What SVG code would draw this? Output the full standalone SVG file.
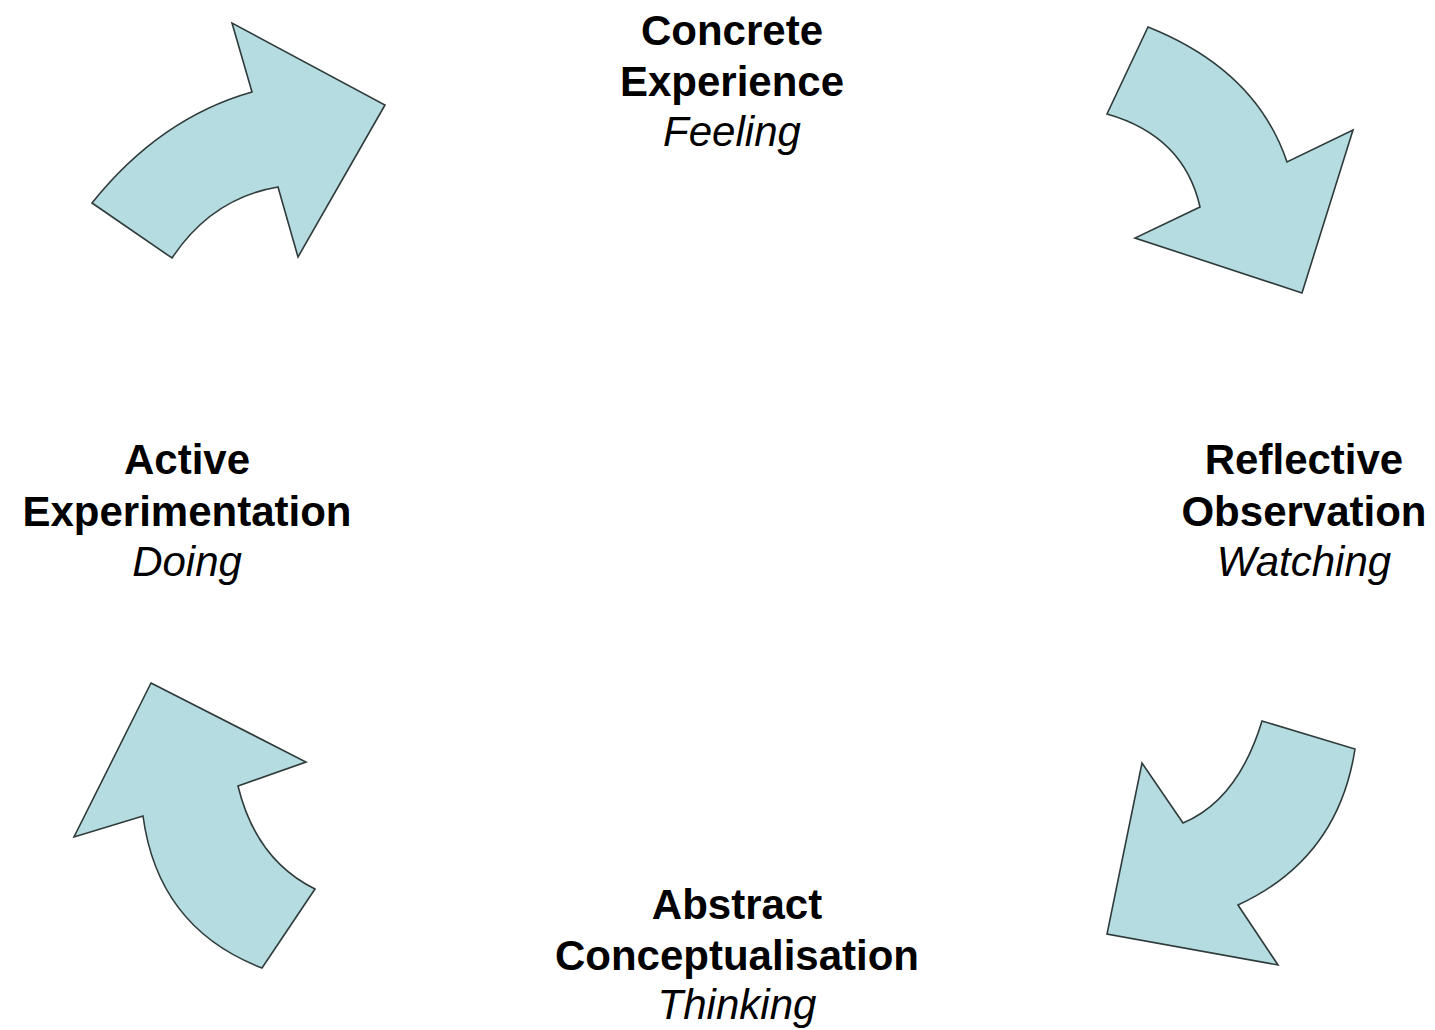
<svg xmlns="http://www.w3.org/2000/svg" width="1435" height="1030" viewBox="0 0 1435 1030">
<style>
.arrow{fill:#b5dce0;stroke:#2f3b3b;stroke-width:1.6;stroke-linejoin:miter}
.t{font-family:"Liberation Sans",Arial,sans-serif;font-size:42px;fill:#000;text-anchor:middle}
.b{font-weight:bold}
.i{font-style:italic}
</style>
<rect width="1435" height="1030" fill="#fff"/>
<g id="connectors">
<path id="arrow-ae-ce" class="arrow" d="M92,203 Q160,118 252,92 L232,23 L385,105 L298,257 L278,187 Q212,198 172,258 Z"/>
<path id="arrow-ce-ro" class="arrow" d="M1148,27 Q1256,70 1287,162 L1353,130 L1302,293 L1135,238 L1200,207 Q1184,136 1107,114 Z"/>
<path id="arrow-ro-ac" class="arrow" d="M1262,721 L1355,749 Q1338,859 1238,905 L1278,965 L1107,934 L1142,763 L1183,823 Q1238,800 1262,721 Z"/>
<path id="arrow-ac-ae" class="arrow" d="M151,683 L306,762 L238,786 Q256,860 315,889 L262,968 Q158,928 143,816 L74,837 Z"/>
</g>
<g id="concrete-experience">
<text class="t b" x="732" y="45">Concrete</text>
<text class="t b" x="732" y="96">Experience</text>
<text class="t i" x="732" y="146">Feeling</text>
</g>
<g id="reflective-observation">
<text class="t b" x="1304" y="474">Reflective</text>
<text class="t b" x="1304" y="526">Observation</text>
<text class="t i" x="1304" y="576">Watching</text>
</g>
<g id="abstract-conceptualisation">
<text class="t b" x="737" y="919">Abstract</text>
<text class="t b" x="737" y="970">Conceptualisation</text>
<text class="t i" x="737" y="1019">Thinking</text>
</g>
<g id="active-experimentation">
<text class="t b" x="187" y="474">Active</text>
<text class="t b" x="187" y="526">Experimentation</text>
<text class="t i" x="187" y="576">Doing</text>
</g>
</svg>
